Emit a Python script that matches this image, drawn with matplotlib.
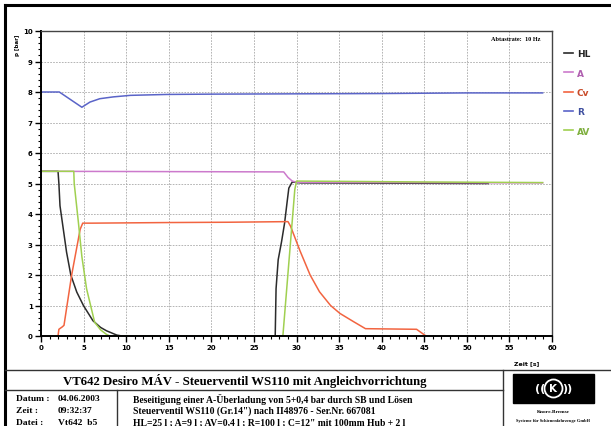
import matplotlib
matplotlib.use("Agg")
import matplotlib.pyplot as plt
from matplotlib.lines import Line2D
from matplotlib.patches import Rectangle, Ellipse

hl_t = [0, 2.0, 2.1, 2.23, 2.62, 3.0, 3.5, 4.2, 5.0, 6.1, 7.0, 7.7, 8.9, 9.5,
        27.5, 27.6, 27.85, 28.25, 28.6, 28.9, 29.1, 29.5, 30.5, 52.5]
hl_v = [5.4, 5.4, 5.0, 4.27, 3.5, 2.75, 2.0, 1.44, 0.99, 0.5, 0.28, 0.17, 0.03, 0.0,
        0.0, 1.55, 2.5, 3.1, 3.7, 4.4, 4.85, 5.05, 5.02, 5.0]

a_t = [0, 28.5, 29.0, 29.5, 30.0, 58.9]
a_v = [5.4, 5.38, 5.2, 5.08, 5.04, 5.02]

cv_t = [2.0, 2.1, 2.5, 2.7, 3.0, 3.6, 4.2, 4.6, 4.9, 6.0, 15, 22, 29.0, 29.3,
        30.4, 31.6, 32.7, 34.0, 35.1, 36.7, 38.1, 44.1, 45.2]
cv_v = [0.0, 0.22, 0.3, 0.35, 0.9, 2.0, 2.9, 3.5, 3.7, 3.7, 3.72, 3.73, 3.75, 3.6,
        2.8, 2.0, 1.45, 1.0, 0.74, 0.47, 0.24, 0.22, 0.0]

r_t = [0, 2.15, 4.8, 5.75, 6.9, 8.5, 10.5, 14.8, 20, 30, 40, 50, 58.9]
r_v = [8.0, 8.0, 7.5, 7.67, 7.78, 7.84, 7.89, 7.92, 7.93, 7.94, 7.95, 7.97, 7.97]

av_t = [0, 3.85, 3.9, 4.4, 4.8, 5.35, 6.3, 7.0, 7.7, 8.1,
        28.4, 29.1, 29.8, 30.0, 35, 45, 58.9]
av_v = [5.4, 5.4, 5.0, 3.7, 2.6, 1.55, 0.45, 0.2, 0.05, 0.0,
        0.0, 2.4, 4.8, 5.08, 5.07, 5.05, 5.03]

names = ["HL", "A", "Cv", "R", "AV"]
line_cols = ["#2b2b2b", "#cc7acc", "#f26440", "#5a64c8", "#a0d050"]
text_cols = ["#222222", "#b060b0", "#c84a28", "#4050a0", "#80b040"]

W, H = 611, 427
fig = plt.figure(figsize=(W / 100, H / 100), dpi=100)
fig.patch.set_facecolor("white")


def fx(px):
    return px / W


def fy(py):
    return 1 - py / H


ax = fig.add_axes([fx(41), fy(337), fx(552) - fx(41), fy(32) - fy(337)])

series = [(hl_t, hl_v), (a_t, a_v), (cv_t, cv_v), (r_t, r_v), (av_t, av_v)]
for (t, v), c, n in zip(series, line_cols, names):
    ax.plot(t, v, color=c, lw=1.1, label=n)

ax.set_xlim(0, 60)
ax.set_ylim(0, 10)
ax.set_xticks(range(0, 61, 5))
ax.set_yticks(range(0, 11))
ax.set_xticks(range(0, 61), minor=True)
ax.set_yticks([i / 5 for i in range(51)], minor=True)
ax.tick_params(which="major", length=4, width=1.0, labelsize=5, pad=2)
ax.tick_params(which="minor", length=2.5, width=0.8)
for lab in ax.get_xticklabels() + ax.get_yticklabels():
    lab.set_fontweight("bold")
ax.grid(True, which="major", ls=(0, (2, 1.5)), color="#a8a8a8", lw=0.6)
for s in ["left", "bottom"]:
    ax.spines[s].set_linewidth(1.4)
for s in ["top", "right"]:
    ax.spines[s].set_linewidth(1.0)
    ax.spines[s].set_color("#444444")

ax.text(0.978, 0.983, "Abtastrate:  10 Hz", transform=ax.transAxes,
        ha="right", va="top", fontsize=4.5, fontweight="bold", family="Liberation Serif")

fig.text(fx(17), fy(45), "p [bar]", rotation=90, ha="center", va="center",
         fontsize=4, fontweight="bold")
fig.text(fx(527), fy(364), "Zeit [s]", ha="center", va="center",
         fontsize=4.5, fontweight="bold")

# Legende
handles = [Line2D([], [], color=c, lw=1.2) for c in line_cols]
leg = fig.legend(handles, names, loc="upper left", bbox_to_anchor=(fx(556), fy(42)),
                 frameon=False, handlelength=1.0, handletextpad=0.4,
                 labelspacing=1.15, prop={"size": 6.5, "weight": "bold"})
for txt, c in zip(leg.get_texts(), text_cols):
    txt.set_color(c)

# Rahmen und Tabelle
def hline(y, x0, x1, lw=1.0, c="#333333"):
    fig.add_artist(Line2D([fx(x0), fx(x1)], [fy(y), fy(y)], color=c, lw=lw))


def vline(x, y0, y1, lw=1.0, c="#333333"):
    fig.add_artist(Line2D([fx(x), fx(x)], [fy(y0), fy(y1)], color=c, lw=lw))


hline(6, 5, 611, lw=2.2, c="black")
vline(5, 6, 427, lw=2.2, c="black")
hline(371, 5, 611)
hline(391, 5, 503)
vline(503, 371, 427)
vline(117, 391, 427)

fig.text(fx(245), fy(381), "VT642 Desiro MÁV - Steuerventil WS110 mit Angleichvorrichtung",
         ha="center", va="center", fontsize=9.2, fontweight="bold", family="Liberation Serif")

left_lab = ["Datum :", "Zeit :", "Datei :"]
left_val = ["04.06.2003", "09:32:37", "Vt642  b5"]
info = ["Beseitigung einer A-Überladung von 5+0,4 bar durch SB und Lösen",
        "Steuerventil WS110 (Gr.14\") nach II48976 - Ser.Nr. 667081",
        "HL=25 l ; A=9 l ; AV=0,4 l ; R=100 l ; C=12\" mit 100mm Hub + 2 l"]
rows_y = [399, 411, 423]
for y, l, v, s in zip(rows_y, left_lab, left_val, info):
    fig.text(fx(16), fy(y), l, ha="left", va="center", fontsize=6.8,
             fontweight="bold", family="Liberation Serif")
    fig.text(fx(58), fy(y), v, ha="left", va="center", fontsize=6.8,
             fontweight="bold", family="Liberation Serif")
    fig.text(fx(133), fy(y), s, ha="left", va="center", fontsize=6.9,
             fontweight="bold", family="Liberation Serif")

# Logo
fig.add_artist(Rectangle((fx(513), fy(404)), fx(594) - fx(513), fy(375) - fy(404),
                         transform=fig.transFigure, color="black"))
fig.add_artist(Ellipse((fx(553.5), fy(389.5)), fx(18), fy(0) - fy(18),
                       transform=fig.transFigure, fill=False, ec="white", lw=1.3))
fig.text(fx(553.5), fy(389.5), "K", color="white", ha="center", va="center",
         fontsize=7.5, fontweight="bold")
fig.text(fx(540), fy(389.5), "((", color="white", ha="center", va="center",
         fontsize=8, fontweight="bold")
fig.text(fx(567), fy(389.5), "))", color="white", ha="center", va="center",
         fontsize=8, fontweight="bold")
fig.text(fx(553.5), fy(412), "Knorr-Bremse", ha="center", va="center",
         fontsize=3.8, fontweight="bold", family="Liberation Serif")
fig.text(fx(553.5), fy(421), "Systeme für Schienenfahrzeuge GmbH", ha="center",
         va="center", fontsize=3.2, fontweight="bold", family="Liberation Serif")

fig.savefig("out.png", dpi=100)
